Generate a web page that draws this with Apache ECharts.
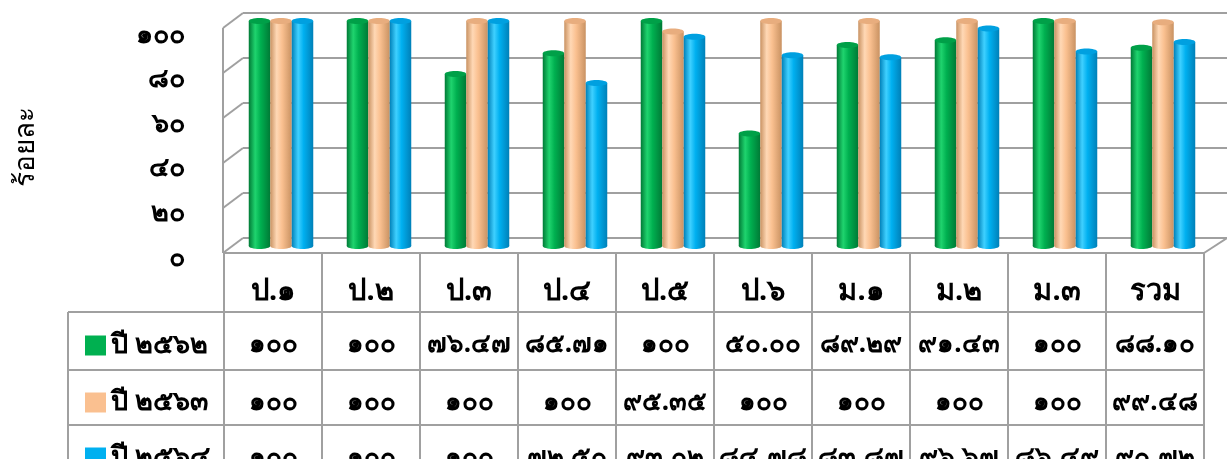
<!DOCTYPE html>
<html><head><meta charset="utf-8">
<script src="https://cdn.jsdelivr.net/npm/echarts@6/dist/echarts.min.js"></script>
<style>html,body{margin:0;padding:0;background:#fff}#c{width:1227px;height:459px}</style>
</head><body><div id="c"></div>
<script>
const categories = ['ป.๑','ป.๒','ป.๓','ป.๔','ป.๕','ป.๖','ม.๑','ม.๒','ม.๓','รวม'];
const seriesNames = ['ปี ๒๕๖๒','ปี ๒๕๖๓','ปี ๒๕๖๔'];
const y2562 = [100,100,76.47,85.71,100,50.00,89.29,91.43,100,88.10];
const y2563 = [100,100,100,100,95.35,100,100,100,100,99.48];
const y2564 = [100,100,100,72.50,93.02,84.78,83.87,96.67,86.49,90.72];
const yTicks = [0,20,40,60,80,100];
const yAxisTitle = 'ร้อยละ';

const FONT = 'Noto Sans, DejaVu Sans, sans-serif';
const colors = [
  {main:'#00B050', light:'#1fd46e', dark:'#007a36', top:'#00a048'},
  {main:'#FAC090', light:'#ffd8b5', dark:'#c99262', top:'#e8ad7e'},
  {main:'#00B0F0', light:'#3fd0ff', dark:'#0080b8', top:'#00a0e0'}
];
const thaiDigits = '๐๑๒๓๔๕๖๗๘๙';
function toThai(s){ return String(s).replace(/[0-9]/g, d => thaiDigits[+d]); }
function fmt(v){ return toThai(v === 100 ? '100' : v.toFixed(2)); }
const rows = [y2562, y2563, y2564];

const chart = echarts.init(document.getElementById('c'), null, {renderer:'canvas'});

function cylinder(k){
  return function(params, api){
    const idx = api.value(0), val = api.value(1);
    const base = api.coord([idx, 0]);
    const top = api.coord([idx, val]);
    const w = 21.5;
    const cx = base[0] + 8 + (k - 1) * w;
    const x0 = cx - w / 2;
    const c = colors[k];
    const grad = new echarts.graphic.LinearGradient(0,0,1,0,[
      {offset:0, color:c.dark},{offset:0.3, color:c.light},{offset:0.55, color:c.main},{offset:1, color:c.dark}
    ]);
    return {type:'group', children:[
      {type:'ellipse', shape:{cx:cx, cy:base[1], rx:w/2, ry:3}, style:{fill:grad}},
      {type:'rect', shape:{x:x0, y:top[1], width:w, height:base[1]-top[1]}, style:{fill:grad}},
      {type:'ellipse', shape:{cx:cx, cy:top[1], rx:w/2, ry:3}, style:{fill:c.top}}
    ]};
  };
}

const lineColor = '#a0a0a0';
const tableAxis = (offset, r) => ({
  type:'category', gridIndex:0, data:categories, position:'bottom', offset:offset,
  axisLine:{show:true, onZero:false, lineStyle:{color:lineColor, width:2}},
  axisTick:{show:false},
  axisLabel:{interval:0, hideOverlap:false, margin:20, fontSize:26, fontWeight:'bold', color:'#000', fontFamily:FONT,
    formatter:(v, i) => fmt(rows[r][i])}
});

const legendBase = (i, top) => ({orient:'vertical', left:80, top:top, itemWidth:21, itemHeight:20,
  icon:'rect', data:[seriesNames[i]],
  textStyle:{fontSize:27, fontWeight:'bold', color:'#000', fontFamily:FONT}});

const option = {
  animation:false,
  textStyle:{fontFamily:FONT},
  legend:[legendBase(0, 327), legendBase(1, 384), legendBase(2, 439)],
  grid:[
    {left:224, right:23, top:21, height:225, outerBoundsMode:'none', containLabel:false},
    {left:243, right:0, top:13, height:225, outerBoundsMode:'none', containLabel:false},
    {left:188, width:10, top:35, height:223, outerBoundsMode:'none', containLabel:false}
  ],
  xAxis:[
    {type:'category', gridIndex:0, data:categories, position:'bottom', offset:7,
      axisLine:{show:true, onZero:false, lineStyle:{color:lineColor, width:2}},
      axisTick:{show:true, length:215, interval:0, lineStyle:{color:lineColor, width:2}},
      axisLabel:{interval:0, hideOverlap:false, margin:24, fontSize:29, fontWeight:'bold', color:'#000', fontFamily:FONT}},
    tableAxis(66, 0),
    tableAxis(124, 1),
    tableAxis(179, 2),
    {type:'category', gridIndex:1, data:categories, show:false},
    {type:'category', gridIndex:2, data:categories, show:false}
  ],
  yAxis:[
    {type:'value', gridIndex:0, min:0, max:100, show:false},
    {type:'value', gridIndex:1, min:0, max:100, interval:20,
      axisLine:{show:false}, axisTick:{show:false}, axisLabel:{show:false},
      splitLine:{show:true, lineStyle:{color:lineColor, width:2}}},
    {type:'value', gridIndex:2, min:0, max:100, interval:20,
      axisLine:{show:false}, axisTick:{show:false}, splitLine:{show:false},
      axisLabel:{margin:3, fontSize:27, fontWeight:'bold', color:'#000', fontFamily:FONT,
        formatter:v => toThai(v)},
      name:yAxisTitle, nameLocation:'middle', nameGap:148, nameRotate:90,
      nameTextStyle:{fontSize:28, fontWeight:'normal', color:'#000', fontFamily:FONT}}
  ],
  series:[
    {type:'custom', name:'_wall', xAxisIndex:4, yAxisIndex:1, silent:true, z:1,
      data:yTicks.map(v => [0, v]),
      renderItem:function(params, api){
        const cs = params.coordSys;
        const p = api.coord([0, api.value(1)]);
        const lx = cs.x;
        const ch = [{type:'line', shape:{x1:lx-20, y1:p[1]+15, x2:lx, y2:p[1]}, style:{stroke:lineColor, lineWidth:2}}];
        if (api.value(1) === 0) {
          const t = api.coord([0, 100]);
          ch.push({type:'line', shape:{x1:lx-20, y1:t[1]+15, x2:lx-20, y2:p[1]+15}, style:{stroke:lineColor, lineWidth:2}});
          ch.push({type:'line', shape:{x1:cs.x+cs.width-23, y1:p[1]+15, x2:cs.x+cs.width, y2:p[1]}, style:{stroke:lineColor, lineWidth:2}});
        }
        return {type:'group', children:ch};
      }},
    {type:'custom', name:seriesNames[0], xAxisIndex:0, yAxisIndex:0, z:3, itemStyle:{color:colors[0].main},
      data:y2562.map((v,i)=>[i,v]), renderItem:cylinder(0)},
    {type:'custom', name:seriesNames[1], xAxisIndex:0, yAxisIndex:0, z:3, itemStyle:{color:colors[1].main},
      data:y2563.map((v,i)=>[i,v]), renderItem:cylinder(1)},
    {type:'custom', name:seriesNames[2], xAxisIndex:0, yAxisIndex:0, z:3, itemStyle:{color:colors[2].main},
      data:y2564.map((v,i)=>[i,v]), renderItem:cylinder(2)}
  ],
  graphic:[
    {type:'line', shape:{x1:68, y1:312, x2:224, y2:312}, style:{stroke:lineColor, lineWidth:2}},
    {type:'line', shape:{x1:68, y1:370, x2:224, y2:370}, style:{stroke:lineColor, lineWidth:2}},
    {type:'line', shape:{x1:68, y1:425, x2:224, y2:425}, style:{stroke:lineColor, lineWidth:2}},
    {type:'line', shape:{x1:68, y1:312, x2:68, y2:459}, style:{stroke:lineColor, lineWidth:2}}
  ]
};
chart.setOption(option);
</script></body></html>
